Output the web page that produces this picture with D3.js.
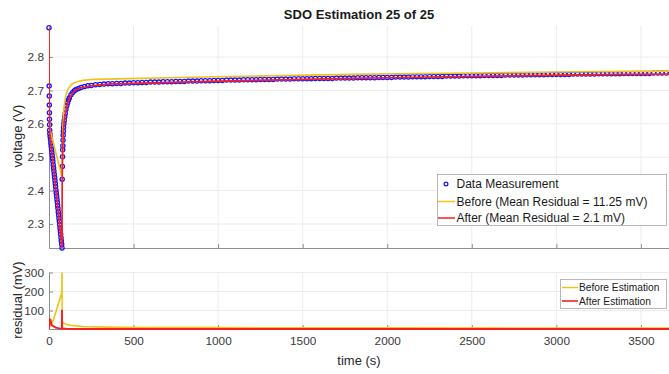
<!DOCTYPE html>
<html>
<head>
<meta charset="utf-8">
<script src="https://cdnjs.cloudflare.com/ajax/libs/d3/7.8.5/d3.min.js"></script>
<style>
body { margin: 0; background: #fff; }
svg { font-family: "Liberation Sans", Arial, sans-serif; }
</style>
</head>
<body>
<div id="chart"></div>
<script>
// measured voltage (s, V)
var measT = [0, 1, 1.5, 2, 2.5, 3, 3.5, 4, 5,
    7, 9, 11, 13, 15, 17, 19, 21, 23, 25, 27, 29, 31, 33, 35, 37, 39, 41,
    43, 45, 47, 49, 51, 53, 55, 57, 59, 61, 63, 65, 67, 69, 71, 73, 75, 77,
    78, 79, 80, 81, 82, 83, 84, 85, 86, 88, 90, 93, 96, 100, 105, 110, 115, 120,
    130, 140, 150, 160, 175, 190, 210, 230, 250, 275, 300, 325, 350, 375, 400,
    425, 450, 475, 500, 525,
    550, 575, 600, 625, 650, 675, 700, 725, 750, 775, 800, 825, 850, 875, 900, 925, 950, 975, 1000,
    1025, 1050, 1075, 1100, 1125, 1150, 1175, 1200, 1225, 1250, 1275, 1300, 1325, 1350, 1375, 1400, 1425, 1450, 1475, 1500,
    1525, 1550, 1575, 1600, 1625, 1650, 1675, 1700, 1725, 1750, 1775, 1800, 1825, 1850, 1875, 1900, 1925, 1950, 1975, 2000,
    2025, 2050, 2075, 2100, 2125, 2150, 2175, 2200, 2225, 2250, 2275, 2300, 2325, 2350, 2375, 2400, 2425, 2450, 2475, 2500,
    2525, 2550, 2575, 2600, 2625, 2650, 2675, 2700, 2725, 2750, 2775, 2800, 2825, 2850, 2875, 2900, 2925, 2950, 2975, 3000,
    3025, 3050, 3075, 3100, 3125, 3150, 3175, 3200, 3225, 3250, 3275, 3300, 3325, 3350, 3375, 3400, 3425, 3450, 3475, 3500,
    3525, 3550, 3575, 3600, 3625, 3650, 3675]
var measV = [2.888, 2.713, 2.683, 2.656, 2.633, 2.614, 2.597, 2.581, 2.570,
    2.561, 2.552, 2.542, 2.533, 2.524, 2.515, 2.505, 2.496, 2.487, 2.477, 2.468, 2.459, 2.449, 2.440, 2.431, 2.421, 2.412, 2.402,
    2.393, 2.384, 2.374, 2.365, 2.355, 2.346, 2.336, 2.327, 2.317, 2.308, 2.298, 2.288, 2.279, 2.269, 2.259, 2.249, 2.239, 2.228,
    2.434, 2.472, 2.501, 2.522, 2.534, 2.551, 2.566, 2.578, 2.589, 2.600, 2.610, 2.621, 2.631, 2.643, 2.654, 2.663, 2.671, 2.677,
    2.687, 2.694, 2.699, 2.703, 2.706, 2.709, 2.712, 2.714, 2.715, 2.717, 2.718, 2.719, 2.720, 2.720, 2.721,
    2.721, 2.722, 2.722, 2.723, 2.723,
    2.724, 2.724, 2.725, 2.725, 2.725, 2.726, 2.726, 2.726, 2.727, 2.727, 2.727, 2.728, 2.728, 2.728, 2.729, 2.729, 2.729, 2.730, 2.730,
    2.730, 2.731, 2.731, 2.731, 2.731, 2.732, 2.732, 2.732, 2.732, 2.733, 2.733, 2.733, 2.733, 2.734, 2.734, 2.734, 2.734, 2.735, 2.735, 2.735,
    2.735, 2.735, 2.736, 2.736, 2.736, 2.736, 2.736, 2.737, 2.737, 2.737, 2.737, 2.737, 2.738, 2.738, 2.738, 2.738, 2.738, 2.739, 2.739, 2.739,
    2.739, 2.740, 2.740, 2.740, 2.740, 2.741, 2.741, 2.741, 2.741, 2.742, 2.742, 2.742, 2.742, 2.743, 2.743, 2.743, 2.743, 2.744, 2.744, 2.744,
    2.744, 2.744, 2.745, 2.745, 2.745, 2.745, 2.745, 2.746, 2.746, 2.746, 2.746, 2.746, 2.747, 2.747, 2.747, 2.747, 2.747, 2.748, 2.748, 2.748,
    2.748, 2.748, 2.748, 2.749, 2.749, 2.749, 2.749, 2.749, 2.749, 2.750, 2.750, 2.750, 2.750, 2.750, 2.750, 2.751, 2.751, 2.751, 2.751, 2.751,
    2.751, 2.751, 2.752, 2.752, 2.752, 2.752, 2.752]

// model before estimation
var beforeT = [0, 1, 5, 77, 79, 82, 86, 90, 95, 100, 105, 115, 130, 145, 170, 200, 260, 340, 540, 1000, 1780, 2500, 3000, 3400, 3700]
var beforeV = [2.888, 2.625, 2.585, 2.440, 2.500, 2.580, 2.630, 2.655, 2.672, 2.685, 2.694, 2.706, 2.716, 2.722, 2.727, 2.730, 2.733, 2.734, 2.736, 2.741, 2.748, 2.752, 2.755, 2.757, 2.758]

// model after estimation
var afterT = [0, 1, 2, 3, 4, 5, 41, 77, 78, 80, 82, 85, 90, 96, 105, 120, 140, 160, 190, 250, 350, 540, 1000, 1500, 1780, 2000, 2500, 3000, 3400, 3700]
var afterV = [2.888, 2.712, 2.655, 2.613, 2.581, 2.569, 2.402, 2.228, 2.436, 2.500, 2.534, 2.577, 2.609, 2.630, 2.652, 2.676, 2.693, 2.702, 2.708, 2.714, 2.719, 2.722, 2.728, 2.733, 2.736, 2.738, 2.742, 2.746, 2.748, 2.749]

// residuals (mV)
var resBeforeT = [0, 5, 12, 25, 50, 75, 77, 78, 85, 100, 130, 200, 340, 540, 1000, 2000, 3000, 3700]
var resBefore = [5, 15, 22, 47, 120, 192, 300, 38, 34, 28, 22, 16, 13, 11, 10, 9, 8, 8]
var resAfterT = [0, 2, 10, 14, 25, 40, 60, 76, 77, 78, 100, 200, 3700]
var resAfter = [0, 56, 50, 25, 18, 10, 6, 5, 104, 6, 4, 3, 3]

var timeTicks = [0, 500, 1000, 1500, 2000, 2500, 3000, 3500]
var voltTicks = [2.3, 2.4, 2.5, 2.6, 2.7, 2.8]
var resTicks = [100, 200, 300]

var legendTop = ['Data Measurement', 'Before (Mean Residual = 11.25 mV)', 'After (Mean Residual = 2.1 mV)']
var legendBottom = ['Before Estimation', 'After Estimation']

var width = 669, height = 374
var yellow = '#f2c21b', red = '#fa1e1e', blue = '#1414ff'

var svg = d3.select('#chart').append('svg')
    .attr('width', width)
    .attr('height', height)

var x = d3.scaleLinear().domain([0, 3666]).range([49, 669])
var yTop = d3.scaleLinear().domain([2.228, 2.893]).range([248, 26])
var yBot = d3.scaleLinear().domain([3, 300]).range([329, 272.5])

var defs = svg.append('defs')
defs.append('clipPath').attr('id', 'clipTop').append('rect')
    .attr('x', 49).attr('y', 26).attr('width', 620).attr('height', 222)
defs.append('clipPath').attr('id', 'clipBot').append('rect')
    .attr('x', 49).attr('y', 272).attr('width', 620).attr('height', 58)

function grid(yScale, yTicks, y0, y1) {
    var g = svg.append('g')
    g.selectAll('.vg')
        .data(timeTicks.slice(1))
        .enter().append('line')
        .attr('x1', function(d) { return x(d) })
        .attr('x2', function(d) { return x(d) })
        .attr('y1', y0).attr('y2', y1)
        .style('stroke', '#ececec')
    g.selectAll('.hg')
        .data(yTicks)
        .enter().append('line')
        .attr('x1', 49).attr('x2', 669)
        .attr('y1', function(d) { return yScale(d) })
        .attr('y2', function(d) { return yScale(d) })
        .style('stroke', '#ececec')
}
grid(yTop, voltTicks, 26, 248)
grid(yBot, resTicks, 272.5, 329)

function axes(yScale, yTicks, yFmt, yBase, showX) {
    var ax = svg.append('g')
        .attr('transform', 'translate(49,0)')
        .call(d3.axisLeft(yScale).tickValues(yTicks).tickFormat(yFmt).tickSizeInner(-4).tickSizeOuter(0).tickPadding(5))
    var bx = svg.append('g')
        .attr('transform', 'translate(0,' + yBase + ')')
        .call(d3.axisBottom(x).tickValues(timeTicks).tickSizeInner(-4).tickSizeOuter(0).tickPadding(8)
            .tickFormat(showX ? d3.format('d') : ''))
    ;[ax, bx].forEach(function(a) {
        a.select('.domain').style('stroke', '#8f8f8f')
        a.selectAll('.tick line').style('stroke', '#8f8f8f')
        a.selectAll('text').style('fill', '#3a3a3a').style('font-size', '11.8px')
    })
}
axes(yTop, voltTicks, d3.format('.1f'), 248, false)
axes(yBot, resTicks, d3.format('d'), 329, true)

// voltage plot
var lineTop = d3.line()
    .x(function(d) { return x(d[0]) })
    .y(function(d) { return yTop(d[1]) })

svg.append('g').selectAll('circle')
    .data(d3.zip(measT, measV))
    .enter().append('circle')
    .attr('cx', function(d) { return x(d[0]) })
    .attr('cy', function(d) { return yTop(d[1]) })
    .attr('r', 2.1)
    .style('fill', 'none')
    .style('stroke', blue)
    .style('stroke-width', 1.3)

svg.append('path')
    .datum(d3.zip(beforeT, beforeV))
    .attr('clip-path', 'url(#clipTop)')
    .attr('d', lineTop)
    .style('fill', 'none').style('stroke', yellow).style('stroke-width', 1.6)

svg.append('path')
    .datum(d3.zip(afterT, afterV))
    .attr('clip-path', 'url(#clipTop)')
    .attr('d', lineTop)
    .style('fill', 'none').style('stroke', red).style('stroke-width', 1.7)

// residual plot
var lineBot = d3.line()
    .x(function(d) { return x(d[0]) })
    .y(function(d) { return yBot(d[1]) })

svg.append('path')
    .datum(d3.zip(resBeforeT, resBefore))
    .attr('clip-path', 'url(#clipBot)')
    .attr('d', lineBot)
    .style('fill', 'none').style('stroke', yellow).style('stroke-width', 1.6)

svg.append('path')
    .datum(d3.zip(resAfterT, resAfter))
    .attr('clip-path', 'url(#clipBot)')
    .attr('d', lineBot)
    .style('fill', 'none').style('stroke', red).style('stroke-width', 1.9)

// titles and labels
svg.append('text')
    .attr('x', 359).attr('y', 19)
    .attr('text-anchor', 'middle')
    .style('font-weight', 'bold').style('font-size', '13px').style('fill', '#1a1a1a')
    .text('SDO Estimation 25 of 25')

svg.append('text')
    .attr('transform', 'translate(22,136) rotate(-90)')
    .attr('text-anchor', 'middle')
    .style('font-size', '13px').style('fill', '#262626')
    .text('voltage (V)')

svg.append('text')
    .attr('transform', 'translate(22,300) rotate(-90)')
    .attr('text-anchor', 'middle')
    .style('font-size', '13px').style('fill', '#262626')
    .text('residual (mV)')

svg.append('text')
    .attr('x', 359).attr('y', 365)
    .attr('text-anchor', 'middle')
    .style('font-size', '13px').style('fill', '#262626')
    .text('time (s)')

// top legend
var lg = svg.append('g')
lg.append('rect')
    .attr('x', 437.5).attr('y', 174.5).attr('width', 229).attr('height', 51)
    .style('fill', '#fff').style('stroke', '#a6a6a6').style('stroke-width', 0.8)
var lgY = [184, 201.5, 218]
lg.append('circle')
    .attr('cx', 446).attr('cy', lgY[0]).attr('r', 1.9)
    .style('fill', 'none').style('stroke', blue).style('stroke-width', 1.2)
lg.append('line').attr('x1', 438).attr('x2', 455).attr('y1', lgY[1]).attr('y2', lgY[1])
    .style('stroke', yellow).style('stroke-width', 1.5)
lg.append('line').attr('x1', 438).attr('x2', 455).attr('y1', lgY[2]).attr('y2', lgY[2])
    .style('stroke', red).style('stroke-width', 1.5)
lg.selectAll('text')
    .data(legendTop)
    .enter().append('text')
    .attr('x', 456.5)
    .attr('y', function(d, i) { return lgY[i] + 4.3 })
    .style('font-size', '12px').style('fill', '#1a1a1a')
    .text(function(d) { return d })

// bottom legend
var lb = svg.append('g')
lb.append('rect')
    .attr('x', 560.5).attr('y', 279.5).attr('width', 106).attr('height', 29)
    .style('fill', '#fff').style('stroke', '#a6a6a6').style('stroke-width', 0.8)
var lbY = [287.5, 301]
lb.append('line').attr('x1', 562).attr('x2', 578).attr('y1', lbY[0]).attr('y2', lbY[0])
    .style('stroke', yellow).style('stroke-width', 1.5)
lb.append('line').attr('x1', 562).attr('x2', 578).attr('y1', lbY[1]).attr('y2', lbY[1])
    .style('stroke', red).style('stroke-width', 1.6)
lb.selectAll('text')
    .data(legendBottom)
    .enter().append('text')
    .attr('x', 579)
    .attr('y', function(d, i) { return lbY[i] + 3.6 })
    .style('font-size', '10.2px').style('fill', '#1a1a1a')
    .text(function(d) { return d })
</script>
</body>
</html>
